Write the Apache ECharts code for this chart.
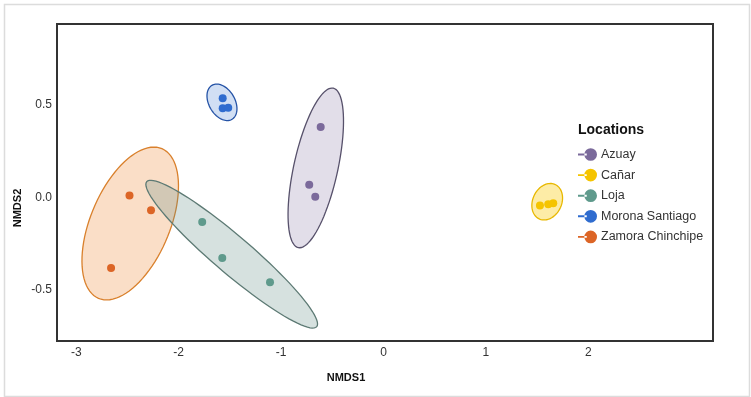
<!DOCTYPE html>
<html>
<head>
<meta charset="utf-8">
<script src="https://cdn.jsdelivr.net/npm/echarts@6/dist/echarts.min.js"></script>
<style>
html,body{margin:0;padding:0;background:#fff}
#main{width:751px;height:397px}
</style>
</head>
<body>
<div id="main"></div>
<script>
// groups
var locations=['Azuay','Cañar','Loja','Morona Santiago','Zamora Chinchipe']

// site scores (NMDS1, NMDS2)
var azuayPts=[[-0.613,0.382],[-0.725,0.069],[-0.666,0.004]]
var canarPts=[[1.528,-0.044],[1.609,-0.037],[1.658,-0.031]]
var lojaPts=[[-1.77,-0.133],[-1.574,-0.328],[-1.108,-0.459]]
var moronaPts=[[-1.57,0.537],[-1.57,0.483],[-1.516,0.486]]
var zamoraPts=[[-2.48,0.01],[-2.27,-0.069],[-2.66,-0.382]]

// ellipses: centre x, centre y, semi axis 1 (dx,dy), semi axis 2 (dx,dy)
var azuayEll=[-0.661,0.160,0.171,0.4315,0.210,-0.0255]
var canarEll=[1.599,-0.023,0.078,0.093,0.128,-0.033]
var lojaEll=[-1.482,-0.307,0.830,-0.3925,0.118,0.077]
var moronaEll=[-1.577,0.515,0.0977,-0.092,0.109,0.0357]
var zamoraEll=[-2.473,-0.141,0.31,0.405,0.355,-0.085]

// axis ticks
var xTicks=[-3,-2,-1,0,1,2]
var yTicks=[-0.5,0,0.5]

var ptColor=['#7b6a9b','#f5c400','#5f9a8c','#2f6ccf','#dc6526']
var fillColor=['rgba(122,106,155,0.22)','rgba(250,205,20,0.38)','rgba(95,140,130,0.26)','rgba(47,108,207,0.22)','rgba(240,145,70,0.3)']
var lineColor=['#57516b','#e8b800','#5d7a74','#2553a6','#d9802c']

var ptsList=[azuayPts,canarPts,lojaPts,moronaPts,zamoraPts]
var ellList=[azuayEll,canarEll,lojaEll,moronaEll,zamoraEll]
var FONT='"Liberation Sans", Arial, sans-serif'

function ellipseItem(i,api){
    var e=ellList[i]
    var pts=[]
    for(var k=0;k<=90;k++){
        var t=k/90*Math.PI*2
        pts.push(api.coord([
            e[0]+Math.cos(t)*e[2]+Math.sin(t)*e[4],
            e[1]+Math.cos(t)*e[3]+Math.sin(t)*e[5]
        ]))
    }
    return {
        type:'polygon',
        shape:{points:pts},
        style:{fill:fillColor[i],stroke:lineColor[i],lineWidth:1.3}
    }
}

function drawChar(){
    var myChart=echarts.init(document.getElementById('main'))
    var series=[]
    // ellipses first, zamora under loja
    var ellOrder=[4,0,1,2,3]
    series.push({
        type:'custom',
        silent:true,
        z:1,
        renderItem:function(params,api){
            return ellipseItem(ellOrder[params.dataIndex],api)
        },
        data:ellOrder.map(function(i){return [ellList[i][0],ellList[i][1]]})
    })
    $each(locations,function(i,name){
        series.push({
            name:name,
            type:'scatter',
            z:3,
            symbolSize:8,
            itemStyle:{color:ptColor[i],opacity:1},
            data:ptsList[i]
        })
    })
    var option={
        animation:false,
        grid:{left:57,top:24,width:656,height:317,show:true,borderColor:'#333',borderWidth:2,backgroundColor:'transparent'},
        xAxis:{
            type:'value',min:-3.188,max:3.218,
            axisLine:{show:false},axisTick:{show:false},splitLine:{show:false},
            axisLabel:{customValues:xTicks,color:'#333',fontSize:12,fontFamily:FONT,margin:6}
        },
        yAxis:{
            type:'value',min:-0.777,max:0.939,
            axisLine:{show:false},axisTick:{show:false},splitLine:{show:false},
            axisLabel:{customValues:yTicks,color:'#333',fontSize:12,fontFamily:FONT,margin:5,
                formatter:function(v){return v.toFixed(1)}}
        },
        legend:{
            orient:'vertical',left:573,top:143,
            itemWidth:19,itemHeight:13,itemGap:7.6,
            icon:'path://M0,5.8h9v2h-9z M6.5,6.8a6.5,6.5 0 1,0 13,0a6.5,6.5 0 1,0 -13,0z',
            textStyle:{color:'#333',fontSize:12.5,fontFamily:FONT,padding:[0,0,0,-1]},
            data:locations
        },
        graphic:[
            {type:'rect',left:2,top:2,shape:{width:745,height:392},style:{fill:'none',stroke:'#dcdcdc',lineWidth:1.5},silent:true},
            {type:'text',left:578,top:123,style:{text:'Locations',font:'bold 14px '+FONT,fill:'#111'}},
            {type:'text',x:346,y:378,style:{text:'NMDS1',font:'bold 11px '+FONT,fill:'#111',align:'center',verticalAlign:'middle'}},
            {type:'text',x:18,y:208,rotation:Math.PI/2,style:{text:'NMDS2',font:'bold 11px '+FONT,fill:'#111',align:'center',verticalAlign:'middle'}}
        ],
        series:series
    }
    myChart.setOption(option)
}

function $each(arr,fn){for(var i=0;i<arr.length;i++)fn(i,arr[i])}

drawChar()
</script>
</body>
</html>
